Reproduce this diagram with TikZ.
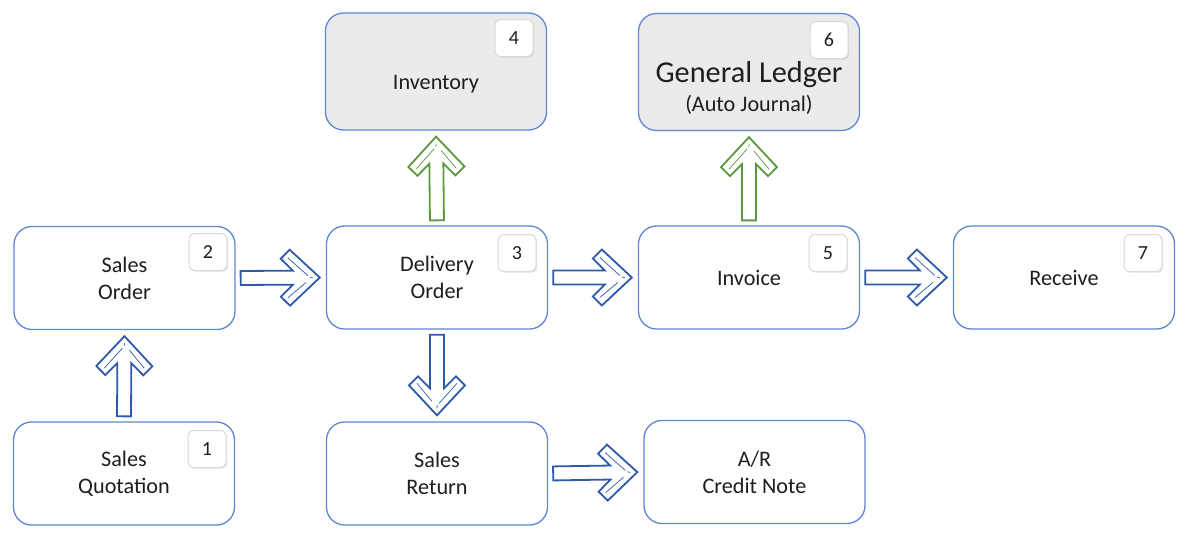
\documentclass[tikz,border=0pt]{standalone}
\usepackage{fontspec}
\setmainfont{Carlito}
\usepackage{tikz}
\usetikzlibrary{calc,shadows}

\definecolor{boxblue}{HTML}{5F86D2}
\definecolor{arrowblue}{HTML}{2F5AAA}
\definecolor{arrowgreen}{HTML}{5B9A3C}
\definecolor{boxgrey}{HTML}{EBEBEB}
\definecolor{textgrey}{HTML}{1E1E1E}

% block arrow from one anchor to another
\newcommand{\blockarrow}[3][arrowblue]{%
  \path #2; \pgfgetlastxy{\bax}{\bay}%
  \path #3; \pgfgetlastxy{\bbx}{\bby}%
  \pgfmathsetmacro{\baang}{atan2((\bby)-(\bay),(\bbx)-(\bax))}%
  \pgfmathsetmacro{\balen}{veclen((\bbx)-(\bax),(\bby)-(\bay))-6}%
  \begin{scope}[shift={(\bax,\bay)}, rotate=\baang, x=1pt, y=1pt]
    \draw[bigarrow, draw=#1] (5,7) -- (\balen-27,7) -- (\balen-39,19) -- (\balen-30,28)
      -- (\balen,0) -- (\balen-30,-28) -- (\balen-39,-19) -- (\balen-27,-7) -- (5,-7) -- cycle;
    \draw[shine, draw=#1] (\balen-32,20) -- (\balen-12,2);
    \draw[shine, draw=#1, dashed] (\balen-10,0.5) -- (\balen-6,-0.5);
    \draw[shine, draw=#1] (\balen-32,-20) -- (\balen-14,-5);
  \end{scope}}

\begin{document}
\begin{tikzpicture}[x=1pt, y=-1pt,
        box/.style={draw=boxblue, line width=1.3pt, rounded corners=18pt, fill=white,
                minimum width=221pt, minimum height=103pt, align=center,
                text=textgrey, font=\fontsize{22.2}{27}\selectfont},
        topbox/.style={box, fill=boxgrey, minimum height=117pt},
        badge/.style={draw=black!15, line width=1pt, fill=white, rounded corners=6pt,
                minimum width=38pt, minimum height=37pt, text=textgrey,
                font=\fontsize{20}{24}\selectfont,
                drop shadow={shadow xshift=1.2pt, shadow yshift=-1.2pt, opacity=0.2}},
        label/.style={text=textgrey, font=\fontsize{22.2}{27}\selectfont},
        bigarrow/.style={fill=white, line width=1.8pt},
        shine/.style={line width=0.7pt}
        ]
        \useasboundingbox (0,0) rectangle (1188,544);

        % ---------------- Boxes ----------------
        \node[box]    (quote)   at (124,473.5)  {Sales\\Quotation};
        \node[box]    (order)   at (124.5,278)  {Sales\\Order};
        \node[box]    (deliv)   at (437,277.5)  {Delivery\\Order};
        \node[topbox] (invent)  at (436,71.5)   {};
        \node[box]    (invoice) at (749,277.5)  {Invoice};
        \node[topbox] (ledger)  at (749,72)     {};
        \node[box]    (receive) at (1064,277.5) {Receive};
        \node[box]    (return)  at (437,473.5)  {Sales\\Return};
        \node[box]    (credit)  at (754.5,472)  {A/R\\Credit Note};

        % ---------------- Texts of top boxes ----------------
        \node[label] (inventtxt) at (436,84)    {Inventory};
        \node[label, font=\fontsize{30.3}{36}\selectfont] (ledgertxt) at (749,74.5) {General Ledger};
        \node[label] (ledgersub) at (749,105)   {(Auto Journal)};

        % ---------------- Step numbers ----------------
        \node[badge] (n1) at (207,449)  {1};
        \node[badge] (n2) at (208,252)  {2};
        \node[badge] (n3) at (517,253)  {3};
        \node[badge] (n4) at (514,38)   {4};
        \node[badge] (n5) at (828,253)  {5};
        \node[badge] (n6) at (829,40)   {6};
        \node[badge] (n7) at (1143,253) {7};

        % ---------------- Arrows ----------------
        \blockarrow{(quote.north)}{(order.south)}
        \blockarrow{(order.east)}{(deliv.west)}
        \blockarrow{(deliv.east)}{(invoice.west)}
        \blockarrow{(invoice.east)}{(receive.west)}
        \blockarrow{(deliv.south)}{(return.north)}
        \blockarrow{(return.east)}{(credit.west)}
        \blockarrow[arrowgreen]{(deliv.north)}{(invent.south)}
        \blockarrow[arrowgreen]{(invoice.north)}{(ledger.south)}

\end{tikzpicture}
\end{document}
